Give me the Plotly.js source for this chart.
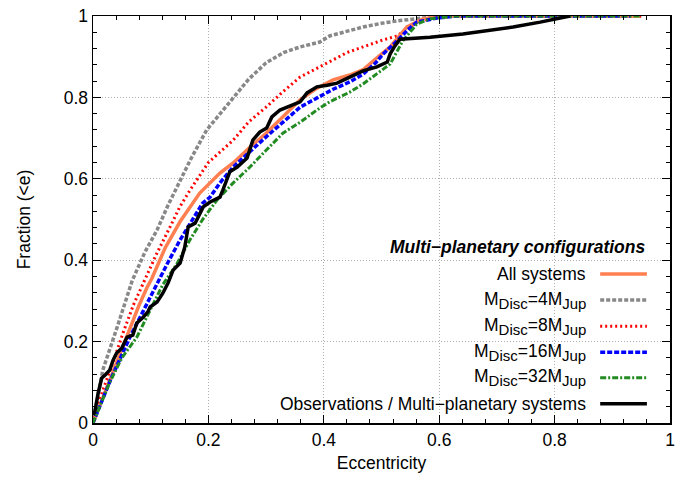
<!DOCTYPE html>
<html>
<head>
<meta charset="utf-8">
<script src="https://cdn.plot.ly/plotly-3.0.1.min.js"></script>
<style>html,body{margin:0;padding:0;background:#fff;}#chart{width:688px;height:480px;}</style>
</head>
<body>
<div id="chart"></div>
<script>
// ---- data ----
const allE = [0,0.03,0.059,0.08,0.094,0.102,0.125,0.151,0.185,0.22,0.243,0.27,0.30,0.33,0.359,0.385,0.416,0.445,0.468,0.49,0.515,0.544,0.572,0.61,0.948];
const allF = [0,0.11,0.211,0.29,0.334,0.355,0.43,0.495,0.565,0.614,0.639,0.675,0.712,0.755,0.794,0.82,0.843,0.855,0.868,0.895,0.924,0.973,0.993,1.0,1.0];

const d4E = [0,0.017,0.042,0.068,0.09,0.111,0.13,0.146,0.17,0.197,0.243,0.27,0.30,0.33,0.359,0.393,0.41,0.44,0.468,0.50,0.527,0.572,0.61,0.95];
const d4F = [0,0.13,0.236,0.35,0.42,0.474,0.535,0.58,0.65,0.72,0.80,0.845,0.885,0.91,0.924,0.936,0.951,0.963,0.973,0.982,0.988,0.995,1.0,1.0];

const d8E = [0,0.017,0.035,0.052,0.07,0.087,0.11,0.133,0.15,0.168,0.2,0.243,0.27,0.30,0.33,0.359,0.41,0.44,0.468,0.5,0.527,0.545,0.561,0.59,0.63,0.95];
const d8F = [0,0.08,0.15,0.221,0.29,0.345,0.415,0.48,0.53,0.572,0.64,0.695,0.74,0.776,0.815,0.85,0.889,0.91,0.924,0.94,0.951,0.97,0.985,0.995,1.0,1.0];

const d16E = [0,0.03,0.064,0.09,0.111,0.13,0.151,0.19,0.203,0.22,0.243,0.27,0.30,0.33,0.359,0.39,0.416,0.445,0.468,0.49,0.503,0.527,0.545,0.561,0.596,0.63,0.932];
const d16F = [0,0.105,0.211,0.285,0.343,0.395,0.45,0.54,0.555,0.59,0.629,0.665,0.703,0.74,0.776,0.8,0.82,0.838,0.857,0.885,0.907,0.939,0.965,0.985,0.995,1.0,1.0];

const d32E = [0,0.029,0.05,0.076,0.1,0.121,0.145,0.168,0.19,0.215,0.243,0.272,0.3,0.329,0.36,0.388,0.41,0.445,0.468,0.49,0.515,0.537,0.561,0.584,0.63,0.95];
const d32F = [0,0.1,0.16,0.211,0.28,0.34,0.39,0.45,0.5,0.548,0.59,0.629,0.67,0.712,0.74,0.769,0.789,0.813,0.833,0.855,0.882,0.939,0.98,0.993,1.0,1.0];

const obsE = [0,0.003,0.009,0.015,0.021,0.029,0.035,0.041,0.05,0.059,0.069,0.076,0.087,0.095,0.099,0.111,0.121,0.13,0.139,0.151,0.159,0.165,0.177,0.185,0.191,0.203,0.22,0.225,0.237,0.25,0.267,0.277,0.289,0.301,0.31,0.324,0.347,0.359,0.371,0.388,0.406,0.423,0.445,0.468,0.492,0.51,0.515,0.523,0.532,0.584,0.641,0.728,0.775,0.815,0.827];
const obsF = [0.02,0.027,0.074,0.11,0.118,0.13,0.155,0.172,0.184,0.211,0.216,0.246,0.26,0.273,0.285,0.297,0.319,0.344,0.376,0.393,0.432,0.482,0.491,0.516,0.531,0.543,0.555,0.572,0.617,0.629,0.651,0.695,0.715,0.725,0.752,0.769,0.781,0.789,0.811,0.826,0.83,0.835,0.85,0.865,0.875,0.887,0.907,0.926,0.943,0.948,0.956,0.973,0.985,0.995,1.0];

const xTicks = [0,0.2,0.4,0.6,0.8,1];
const xTickText = ['0','0.2','0.4','0.6','0.8','1'];
const yTicks = [0,0.2,0.4,0.6,0.8,1];
const yTickText = ['0','0.2','0.4','0.6','0.8','1'];

const legendTitle = 'Multi\u2212planetary configurations';
const subS = t => '<sub><span style="font-size:15px">' + t + '</span></sub>';
const seriesNames = ['All systems',
  'M'+subS('Disc')+'=4M'+subS('Jup'),
  'M'+subS('Disc')+'=8M'+subS('Jup'),
  'M'+subS('Disc')+'=16M'+subS('Jup'),
  'M'+subS('Disc')+'=32M'+subS('Jup'),
  'Observations / Multi\u2212planetary systems'];

// ---- styles ----
const styles = [
  {color:'#ff7f50', width:3.5, dash:'solid'},
  {color:'#888888', width:3.5, dash:'4px,2px'},
  {color:'#ff0000', width:3, dash:'2px,3px'},
  {color:'#0000ff', width:3.5, dash:'5px,2px'},
  {color:'#228b22', width:3, dash:'6px,2px,2px,2px'},
  {color:'#000000', width:3.5, dash:'solid'}
];
const seriesX = [allE,d4E,d8E,d16E,d32E,obsE];
const seriesY = [allF,d4F,d8F,d16F,d32F,obsF];
const order = [1,2,0,3,4,5];
const traces = order.map(i => ({
  x: seriesX[i], y: seriesY[i], type:'scatter', mode:'lines',
  name: seriesNames[i], showlegend:false, hoverinfo:'skip',
  line:{color:styles[i].color, width:styles[i].width, dash:styles[i].dash}
}));

const FONT = 'Liberation Sans, Arial, Helvetica, sans-serif';
const FS = 17.5;
const shapes = [
  {type:'rect', xref:'paper', yref:'paper', x0:0.173, x1:1, y0:0, y1:0.397,
   fillcolor:'#ffffff', line:{width:0}, layer:'between'}
];
const annotations = [
  {xref:'paper', yref:'paper', x:0.962, y:0.432, xanchor:'right', yanchor:'middle',
   text:'<b><i>'+legendTitle+'</i></b>', showarrow:false, font:{family:FONT, size:FS, color:'#000'}}
];
const legYs = [0.366,0.302,0.238,0.174,0.111,0.047];
seriesNames.forEach((n,i)=>{
  annotations.push({xref:'paper', yref:'paper', x:0.858, y:legYs[i], xanchor:'right', yanchor:'middle',
    text:n, showarrow:false, font:{family:FONT, size:FS, color:'#000'}});
  shapes.push({type:'line', xref:'paper', yref:'paper', x0:0.879, x1:0.960, y0:legYs[i], y1:legYs[i],
    line:{color:styles[i].color, width:styles[i].width, dash:styles[i].dash}, layer:'above'});
});

const axisCommon = {
  showline:true, linecolor:'#000', linewidth:1.5, mirror:'allticks',
  ticks:'inside', ticklen:8, tickwidth:1, tickcolor:'#000',
  showgrid:true, gridcolor:'#b0b0b0', gridwidth:1, griddash:'1px,2px',
  zeroline:false, tickfont:{family:FONT, size:FS, color:'#000'},
  minor:{dtick:0.04, ticks:'inside', ticklen:4, tickwidth:1, tickcolor:'#000', showgrid:false}
};

const layout = {
  width:688, height:480,
  margin:{l:93, r:18, t:16, b:57},
  paper_bgcolor:'#fff', plot_bgcolor:'#fff',
  font:{family:FONT, size:FS, color:'#000'},
  xaxis: Object.assign({}, axisCommon, {
    range:[0,1], tickvals:xTicks, ticktext:xTickText,
    title:{text:'Eccentricity', font:{family:FONT, size:FS, color:'#000'}, standoff:8}
  }),
  yaxis: Object.assign({}, axisCommon, {
    range:[0,1], tickvals:yTicks, ticktext:yTickText,
    title:{text:'Fraction (<e)', font:{family:FONT, size:FS, color:'#000'}, standoff:28}
  }),
  shapes: shapes,
  annotations: annotations
};

Plotly.newPlot('chart', traces, layout, {staticPlot:true, displayModeBar:false});
</script>
</body>
</html>
